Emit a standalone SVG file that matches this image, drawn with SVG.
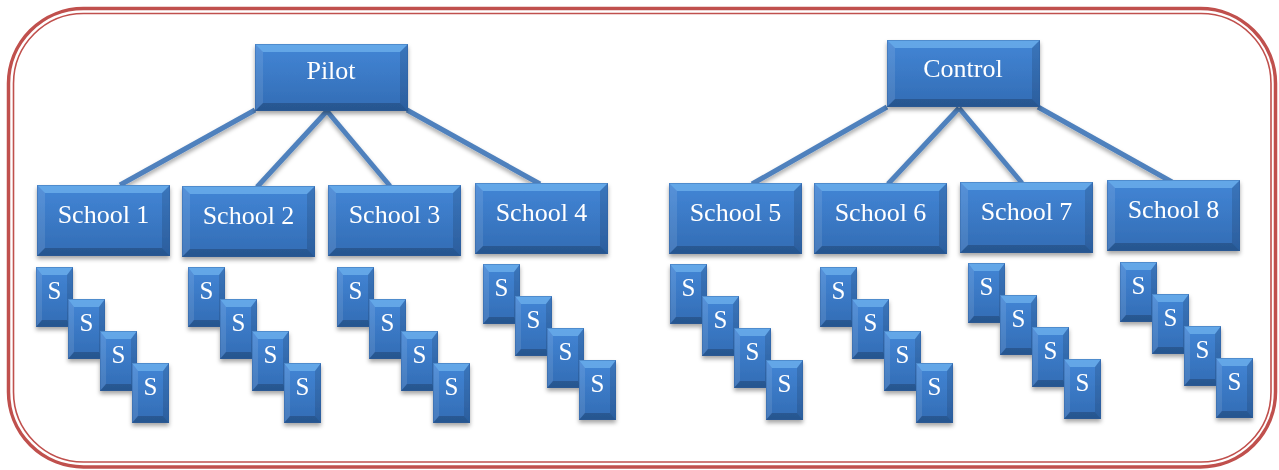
<svg xmlns="http://www.w3.org/2000/svg" xmlns:xlink="http://www.w3.org/1999/xlink" width="1279" height="470" viewBox="0 0 1279 470">
<style>
.lbl{font-family:"Liberation Serif","Times New Roman",serif;fill:#ffffff;text-anchor:middle;font-size:26px}
.s{font-size:25px}
.conn{stroke:#4f81bd;stroke-width:5;stroke-linecap:butt;fill:none}
.bord{fill:none;stroke:#c0504d}
</style>
<defs>
<linearGradient id="face" x1="0" y1="0" x2="0" y2="1">
<stop offset="0" stop-color="#4386d6"/>
<stop offset="1" stop-color="#326cb4"/>
</linearGradient>
<filter id="sh" x="-20%" y="-20%" width="140%" height="150%">
<feDropShadow dx="0" dy="3" stdDeviation="2" flood-color="#000" flood-opacity="0.35"/>
</filter>
<g id="topBox">
<rect width="153" height="67" fill="url(#face)"/>
<polygon points="0,0 153,0 145,8 8,8" fill="#8fd0ff" fill-opacity="0.45"/>
<polygon points="0,0 8,8 8,59 0,67" fill="#fff" fill-opacity="0.1"/>
<polygon points="153,0 153,67 145,59 145,8" fill="#000" fill-opacity="0.12"/>
<polygon points="0,67 153,67 145,59 8,59" fill="#000" fill-opacity="0.2"/>
<rect x="0.5" y="0.5" width="152" height="66" fill="none" stroke="#2c5d9c" stroke-opacity="0.35"/>
</g>
<g id="schoolBox">
<rect width="133" height="71" fill="url(#face)"/>
<polygon points="0,0 133,0 125,8 8,8" fill="#8fd0ff" fill-opacity="0.45"/>
<polygon points="0,0 8,8 8,63 0,71" fill="#fff" fill-opacity="0.1"/>
<polygon points="133,0 133,71 125,63 125,8" fill="#000" fill-opacity="0.12"/>
<polygon points="0,71 133,71 125,63 8,63" fill="#000" fill-opacity="0.2"/>
<rect x="0.5" y="0.5" width="132" height="70" fill="none" stroke="#2c5d9c" stroke-opacity="0.35"/>
</g>
<g id="sBox">
<rect width="37" height="60" fill="url(#face)"/>
<polygon points="0,0 37,0 31,8 6,8" fill="#8fd0ff" fill-opacity="0.45"/>
<polygon points="0,0 6,8 6,53 0,60" fill="#fff" fill-opacity="0.1"/>
<polygon points="37,0 37,60 31,53 31,8" fill="#000" fill-opacity="0.12"/>
<polygon points="0,60 37,60 31,53 6,53" fill="#000" fill-opacity="0.2"/>
<rect x="0.5" y="0.5" width="36" height="59" fill="none" stroke="#2c5d9c" stroke-opacity="0.35"/>
</g>
</defs>
<rect width="1279" height="470" fill="#ffffff"/>
<g id="border">
<rect class="bord" x="8.5" y="8.5" width="1267" height="458.5" rx="75" ry="75" stroke-width="3.5"/>
<rect class="bord" x="13.5" y="13.5" width="1257.5" height="448.5" rx="70" ry="70" stroke-width="1.6"/>
</g>
<g id="connectors" filter="url(#sh)">
<line class="conn" x1="255" y1="110" x2="120" y2="185"/>
<line class="conn" x1="327" y1="111" x2="257" y2="187"/>
<line class="conn" x1="327" y1="111" x2="390" y2="186"/>
<line class="conn" x1="407" y1="110" x2="540" y2="184"/>
<line class="conn" x1="887" y1="107" x2="752" y2="184"/>
<line class="conn" x1="959" y1="108" x2="888" y2="184"/>
<line class="conn" x1="959" y1="108" x2="1022" y2="183"/>
<line class="conn" x1="1038" y1="107" x2="1172" y2="182"/>
</g>
<g id="pilot" filter="url(#sh)"><use xlink:href="#topBox" x="255" y="44"/><text class="lbl" x="331" y="79">Pilot</text></g>
<g id="control" filter="url(#sh)"><use xlink:href="#topBox" x="887" y="40"/><text class="lbl" x="963" y="77">Control</text></g>
<g id="school1" filter="url(#sh)"><use xlink:href="#schoolBox" x="37" y="185"/><text class="lbl" x="103.5" y="223">School 1</text></g>
<g id="school2" filter="url(#sh)"><use xlink:href="#schoolBox" x="182" y="186"/><text class="lbl" x="248.5" y="224">School 2</text></g>
<g id="school3" filter="url(#sh)"><use xlink:href="#schoolBox" x="328" y="185"/><text class="lbl" x="394.5" y="223">School 3</text></g>
<g id="school4" filter="url(#sh)"><use xlink:href="#schoolBox" x="475" y="183"/><text class="lbl" x="541.5" y="221">School 4</text></g>
<g id="school5" filter="url(#sh)"><use xlink:href="#schoolBox" x="669" y="183"/><text class="lbl" x="735.5" y="221">School 5</text></g>
<g id="school6" filter="url(#sh)"><use xlink:href="#schoolBox" x="814" y="183"/><text class="lbl" x="880.5" y="221">School 6</text></g>
<g id="school7" filter="url(#sh)"><use xlink:href="#schoolBox" x="960" y="182"/><text class="lbl" x="1026.5" y="220">School 7</text></g>
<g id="school8" filter="url(#sh)"><use xlink:href="#schoolBox" x="1107" y="180"/><text class="lbl" x="1173.5" y="218">School 8</text></g>
<g id="students1" filter="url(#sh)">
<use xlink:href="#sBox" x="36" y="267"/><text class="lbl s" x="54.5" y="299">S</text>
<use xlink:href="#sBox" x="68" y="299"/><text class="lbl s" x="86.5" y="331">S</text>
<use xlink:href="#sBox" x="100" y="331"/><text class="lbl s" x="118.5" y="363">S</text>
<use xlink:href="#sBox" x="132" y="363"/><text class="lbl s" x="150.5" y="395">S</text>
</g>
<g id="students2" filter="url(#sh)">
<use xlink:href="#sBox" x="188" y="267"/><text class="lbl s" x="206.5" y="299">S</text>
<use xlink:href="#sBox" x="220" y="299"/><text class="lbl s" x="238.5" y="331">S</text>
<use xlink:href="#sBox" x="252" y="331"/><text class="lbl s" x="270.5" y="363">S</text>
<use xlink:href="#sBox" x="284" y="363"/><text class="lbl s" x="302.5" y="395">S</text>
</g>
<g id="students3" filter="url(#sh)">
<use xlink:href="#sBox" x="337" y="267"/><text class="lbl s" x="355.5" y="299">S</text>
<use xlink:href="#sBox" x="369" y="299"/><text class="lbl s" x="387.5" y="331">S</text>
<use xlink:href="#sBox" x="401" y="331"/><text class="lbl s" x="419.5" y="363">S</text>
<use xlink:href="#sBox" x="433" y="363"/><text class="lbl s" x="451.5" y="395">S</text>
</g>
<g id="students4" filter="url(#sh)">
<use xlink:href="#sBox" x="483" y="264"/><text class="lbl s" x="501.5" y="296">S</text>
<use xlink:href="#sBox" x="515" y="296"/><text class="lbl s" x="533.5" y="328">S</text>
<use xlink:href="#sBox" x="547" y="328"/><text class="lbl s" x="565.5" y="360">S</text>
<use xlink:href="#sBox" x="579" y="360"/><text class="lbl s" x="597.5" y="392">S</text>
</g>
<g id="students5" filter="url(#sh)">
<use xlink:href="#sBox" x="670" y="264"/><text class="lbl s" x="688.5" y="296">S</text>
<use xlink:href="#sBox" x="702" y="296"/><text class="lbl s" x="720.5" y="328">S</text>
<use xlink:href="#sBox" x="734" y="328"/><text class="lbl s" x="752.5" y="360">S</text>
<use xlink:href="#sBox" x="766" y="360"/><text class="lbl s" x="784.5" y="392">S</text>
</g>
<g id="students6" filter="url(#sh)">
<use xlink:href="#sBox" x="820" y="267"/><text class="lbl s" x="838.5" y="299">S</text>
<use xlink:href="#sBox" x="852" y="299"/><text class="lbl s" x="870.5" y="331">S</text>
<use xlink:href="#sBox" x="884" y="331"/><text class="lbl s" x="902.5" y="363">S</text>
<use xlink:href="#sBox" x="916" y="363"/><text class="lbl s" x="934.5" y="395">S</text>
</g>
<g id="students7" filter="url(#sh)">
<use xlink:href="#sBox" x="968" y="263"/><text class="lbl s" x="986.5" y="295">S</text>
<use xlink:href="#sBox" x="1000" y="295"/><text class="lbl s" x="1018.5" y="327">S</text>
<use xlink:href="#sBox" x="1032" y="327"/><text class="lbl s" x="1050.5" y="359">S</text>
<use xlink:href="#sBox" x="1064" y="359"/><text class="lbl s" x="1082.5" y="391">S</text>
</g>
<g id="students8" filter="url(#sh)">
<use xlink:href="#sBox" x="1120" y="262"/><text class="lbl s" x="1138.5" y="294">S</text>
<use xlink:href="#sBox" x="1152" y="294"/><text class="lbl s" x="1170.5" y="326">S</text>
<use xlink:href="#sBox" x="1184" y="326"/><text class="lbl s" x="1202.5" y="358">S</text>
<use xlink:href="#sBox" x="1216" y="358"/><text class="lbl s" x="1234.5" y="390">S</text>
</g>
</svg>
